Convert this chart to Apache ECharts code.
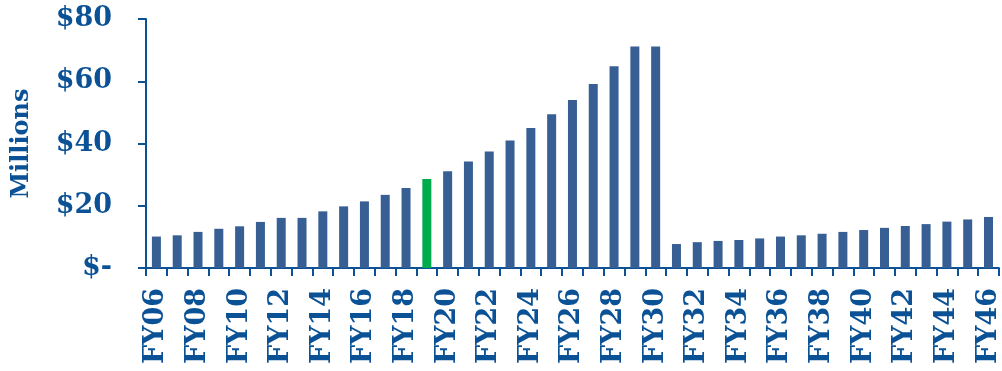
<!DOCTYPE html>
<html>
<head>
<meta charset="utf-8">
<script src="https://cdn.jsdelivr.net/npm/echarts@6/dist/echarts.min.js"></script>
<style>
  html, body { margin: 0; padding: 0; background: #fff; }
  #chart { width: 1002px; height: 371px; }
</style>
</head>
<body>
<div id="chart"></div>
<script>
// Fiscal years FY06 .. FY46
const years = [];
for (let y = 6; y <= 46; y++) years.push('FY' + String(y).padStart(2, '0'));

// Annual amounts, $ millions
const amounts = [
  10.1, 10.5, 11.6, 12.6, 13.4, 14.8, 16.1, 16.1, 18.2, 19.8, 21.4, 23.5, 25.7, 28.6,
  31.1, 34.2, 37.4, 41.0, 45.0, 49.4, 54.0, 59.1, 64.8, 71.2, 71.2,
  7.7, 8.3, 8.7, 9.0, 9.5, 10.1, 10.5, 11.0, 11.6, 12.2, 12.9, 13.5, 14.1, 14.9, 15.6, 16.4
];

// Highlighted (current) year
const highlightYear = 'FY19';

const yTicks = { min: 0, max: 80, interval: 20 };

const ink = '#0b5195';
const barBlue = '#375f94';
const barGreen = '#00ab4e';
const font = 'DejaVu Serif';

const chart = echarts.init(document.getElementById('chart'), null, { renderer: 'canvas' });
chart.setOption({
  animation: false,
  grid: { left: 146, right: 3, top: 19, bottom: 103, containLabel: false },
  xAxis: {
    type: 'category',
    data: years,
    boundaryGap: true,
    axisLine: { lineStyle: { color: ink, width: 2 } },
    axisTick: { show: true, interval: 0, length: 8, lineStyle: { color: ink, width: 2 } },
    axisLabel: {
      interval: 1, rotate: 90, margin: 20,
      color: ink, fontFamily: font, fontWeight: 'bold', fontSize: 27
    }
  },
  yAxis: {
    type: 'value',
    min: yTicks.min, max: yTicks.max, interval: yTicks.interval,
    name: 'Millions',
    nameLocation: 'middle',
    nameRotate: 90,
    nameGap: 112,
    nameTextStyle: { color: ink, fontFamily: font, fontWeight: 'bold', fontSize: 24 },
    splitLine: { show: false },
    axisLine: { show: true, lineStyle: { color: ink, width: 2 } },
    axisTick: { show: true, length: 8, lineStyle: { color: ink, width: 2 } },
    axisLabel: {
      margin: 34,
      color: ink, fontFamily: font, fontWeight: 'bold', fontSize: 27,
      formatter: v => v === 0 ? '$-' : '$' + v
    }
  },
  series: [{
    type: 'bar',
    barWidth: 9,
    data: amounts.map((v, i) => ({
      value: v,
      itemStyle: { color: years[i] === highlightYear ? barGreen : barBlue }
    }))
  }]
});
</script>
</body>
</html>
